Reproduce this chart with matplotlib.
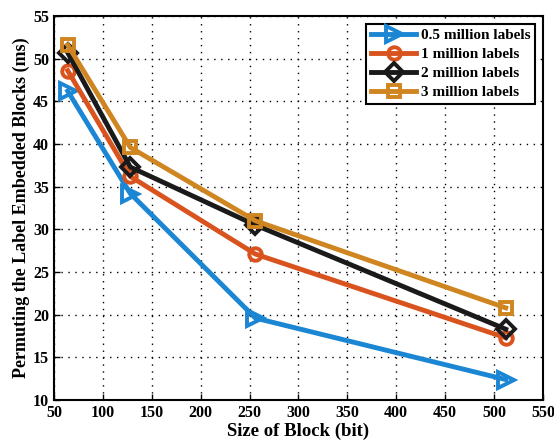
import matplotlib.pyplot as plt
import numpy as np

plt.rcParams["font.family"] = ["Liberation Serif", "DejaVu Serif"]
plt.rcParams["font.weight"] = "bold"
plt.rcParams["mathtext.default"] = "regular"

block_sizes = [64, 128, 256, 512]
labels_05m = [46.2, 34.2, 19.6, 12.4]
labels_1m = [48.6, 36.2, 27.1, 17.3]
labels_2m = [50.7, 37.3, 30.5, 18.3]
labels_3m = [51.6, 39.6, 31.0, 20.8]

series = [
    ("0.5 million labels", labels_05m, "#1b86d3", ">"),
    ("1 million labels", labels_1m, "#d9531e", "o"),
    ("2 million labels", labels_2m, "#1a1a1a", "D"),
    ("3 million labels", labels_3m, "#cf8520", "s"),
]

fig = plt.figure(figsize=(5.54, 4.44), dpi=100)
ax = fig.add_axes([0.0975, 0.099, 0.8825, 0.865])

for name, vals, color, marker in series:
    ms = 12 if marker == ">" else 9
    ax.plot(block_sizes, vals, color=color, lw=3.5, marker=marker, ms=ms,
            mfc="none", mew=2.8, label=name)

ax.set_xlim(50, 550)
ax.set_ylim(10, 55)
ax.set_xticks(np.arange(50, 551, 50))
ax.set_yticks(np.arange(10, 56, 5))
ax.tick_params(direction="in", labelsize=11.5, length=4, width=1)
ax.grid(True, color="black", linestyle=(0, (1, 4)), lw=1)
for sp in ax.spines.values():
    sp.set_linewidth(1.5)

ax.set_xlabel("Size of Block (bit)", fontsize=13.5, fontweight="bold", labelpad=1)
ax.set_ylabel("Permuting the Label Embedded Blocks (ms)", fontsize=13,
              fontweight="bold", labelpad=2)

leg = ax.legend(loc="upper right", fontsize=11, frameon=True, fancybox=False,
                edgecolor="black", framealpha=1, borderpad=0.3, labelspacing=0.35,
                handlelength=3.0, handletextpad=0.3, borderaxespad=0.5)
leg.get_frame().set_linewidth(1.5)

fig.savefig("out.png", dpi=100)
